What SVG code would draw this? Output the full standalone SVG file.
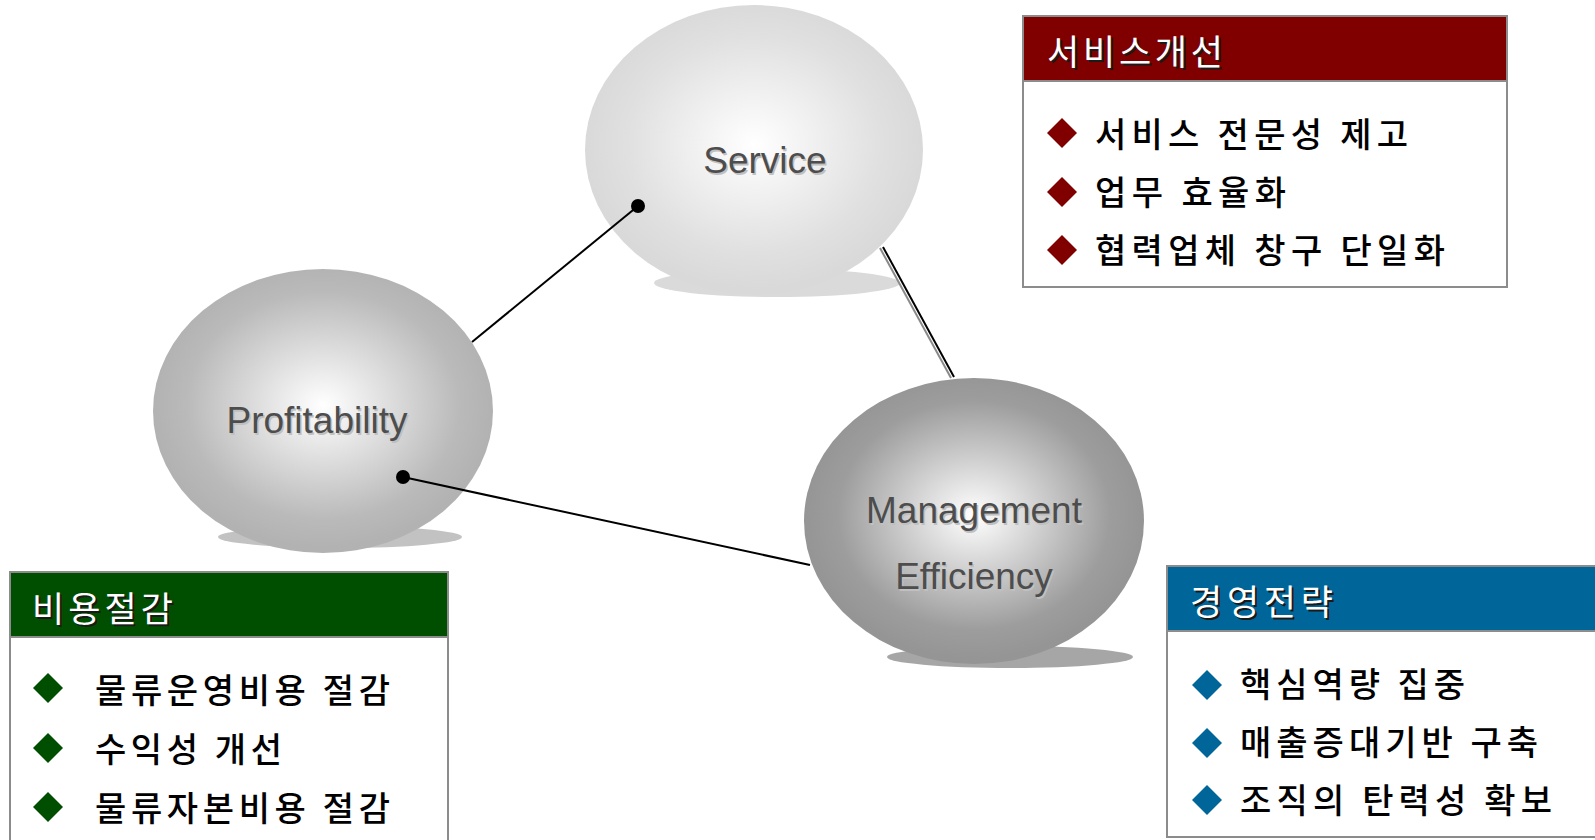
<svg xmlns="http://www.w3.org/2000/svg" width="1595" height="840" viewBox="0 0 1595 840">
<style>
.lbl{font-family:"Liberation Sans",Arial,sans-serif;font-size:37px;text-anchor:middle}
.lblf{fill:#4d4d4d}
.lbls{fill:#c0c0c0}
.hd{font-family:"Noto Sans CJK KR","Noto Sans CJK SC",sans-serif;font-size:35px}
.hdf{fill:#ffffff}
.hds{fill:#1a1a1a}
.it{font-family:"Noto Sans CJK KR","Noto Sans CJK SC",sans-serif;font-size:34px;font-weight:500;fill:#000000}
.box{fill:#ffffff;stroke:#8c8c8c;stroke-width:2}
.conn{stroke:#000000;stroke-width:2;fill:none}
</style>
<defs>
<radialGradient id="gS" cx="50%" cy="48%" r="50%">
<stop offset="0" stop-color="#ffffff"/>
<stop offset="0.75" stop-color="#e0e0e0"/>
<stop offset="1" stop-color="#d9d9d9"/>
</radialGradient>
<radialGradient id="gP" cx="50%" cy="48%" r="50%">
<stop offset="0" stop-color="#ffffff"/>
<stop offset="0.8" stop-color="#bababa"/>
<stop offset="1" stop-color="#b2b2b2"/>
</radialGradient>
<radialGradient id="gM" cx="50%" cy="48%" r="50%">
<stop offset="0" stop-color="#ffffff"/>
<stop offset="0.8" stop-color="#9d9d9d"/>
<stop offset="1" stop-color="#959595"/>
</radialGradient>
<polygon id="dia" points="0,-15 15,0 0,15 -15,0"/>
</defs>

<g id="node-service">
<ellipse cx="777" cy="283" rx="123" ry="14" fill="#dadada"/>
<ellipse cx="754" cy="150" rx="169" ry="145" fill="url(#gS)"/>
<text class="lbl lbls" x="766.5" y="174.5">Service</text>
<text class="lbl lblf" x="765" y="173">Service</text>
</g>

<g id="node-profitability">
<ellipse cx="340" cy="537" rx="122" ry="11" fill="#c2c2c2"/>
<ellipse cx="323" cy="411" rx="170" ry="142" fill="url(#gP)"/>
<text class="lbl lbls" x="318.5" y="434.5">Profitability</text>
<text class="lbl lblf" x="317" y="433">Profitability</text>
</g>

<g id="node-management">
<ellipse cx="1010" cy="657" rx="123" ry="11" fill="#a6a6a6"/>
<ellipse cx="974" cy="521" rx="170" ry="143" fill="url(#gM)"/>
<text class="lbl lbls" x="975.5" y="524.5">Management</text>
<text class="lbl lblf" x="974" y="523">Management</text>
<text class="lbl lbls" x="975.5" y="590.5">Efficiency</text>
<text class="lbl lblf" x="974" y="589">Efficiency</text>
</g>

<g id="connectors">
<line class="conn" x1="638" y1="206" x2="472" y2="342"/>
<circle cx="638" cy="206" r="7" fill="#000000"/>
<line x1="880" y1="248" x2="951" y2="378" stroke="#8a8a8a" stroke-width="2"/>
<line class="conn" x1="883" y1="247" x2="954" y2="377"/>
<line class="conn" x1="403" y1="477" x2="810" y2="565"/>
<circle cx="403" cy="477" r="7" fill="#000000"/>
</g>

<g id="box-service">
<rect class="box" x="1023" y="16" width="484" height="271"/>
<rect x="1024" y="17" width="482" height="64" fill="#800000"/>
<line x1="1023" y1="81" x2="1507" y2="81" stroke="#8c8c8c" stroke-width="2"/>
<text class="hd hds" x="1049" y="67" textLength="176" lengthAdjust="spacing">서비스개선</text>
<text class="hd hdf" x="1047" y="65" textLength="176" lengthAdjust="spacing">서비스개선</text>
<use href="#dia" x="1062" y="133" fill="#800000"/>
<use href="#dia" x="1062" y="192" fill="#800000"/>
<use href="#dia" x="1062" y="250" fill="#800000"/>
<text class="it" x="1095" y="147" textLength="313" lengthAdjust="spacing">서비스 전문성 제고</text>
<text class="it" x="1095" y="205" textLength="191" lengthAdjust="spacing">업무 효율화</text>
<text class="it" x="1095" y="263" textLength="350" lengthAdjust="spacing">협력업체 창구 단일화</text>
</g>

<g id="box-cost">
<rect class="box" x="10" y="572" width="438" height="290"/>
<rect x="11" y="573" width="436" height="64" fill="#004f00"/>
<line x1="10" y1="637" x2="448" y2="637" stroke="#8c8c8c" stroke-width="2"/>
<text class="hd hds" x="34" y="624" textLength="141" lengthAdjust="spacing">비용절감</text>
<text class="hd hdf" x="32" y="622" textLength="141" lengthAdjust="spacing">비용절감</text>
<use href="#dia" x="48" y="688" fill="#004f00"/>
<use href="#dia" x="48" y="748" fill="#004f00"/>
<use href="#dia" x="48" y="807" fill="#004f00"/>
<text class="it" x="95" y="703" textLength="295" lengthAdjust="spacing">물류운영비용 절감</text>
<text class="it" x="95" y="762" textLength="187" lengthAdjust="spacing">수익성 개선</text>
<text class="it" x="95" y="821" textLength="295" lengthAdjust="spacing">물류자본비용 절감</text>
</g>

<g id="box-strategy">
<rect class="box" x="1167" y="566" width="440" height="271"/>
<rect x="1168" y="567" width="438" height="64" fill="#006699"/>
<line x1="1167" y1="631" x2="1607" y2="631" stroke="#8c8c8c" stroke-width="2"/>
<text class="hd hds" x="1192" y="617" textLength="143" lengthAdjust="spacing">경영전략</text>
<text class="hd hdf" x="1190" y="615" textLength="143" lengthAdjust="spacing">경영전략</text>
<use href="#dia" x="1207" y="685" fill="#006699"/>
<use href="#dia" x="1207" y="743" fill="#006699"/>
<use href="#dia" x="1207" y="800" fill="#006699"/>
<text class="it" x="1240" y="697" textLength="225" lengthAdjust="spacing">핵심역량 집중</text>
<text class="it" x="1240" y="755" textLength="298" lengthAdjust="spacing">매출증대기반 구축</text>
<text class="it" x="1240" y="813" textLength="312" lengthAdjust="spacing">조직의 탄력성 확보</text>
</g>
</svg>
